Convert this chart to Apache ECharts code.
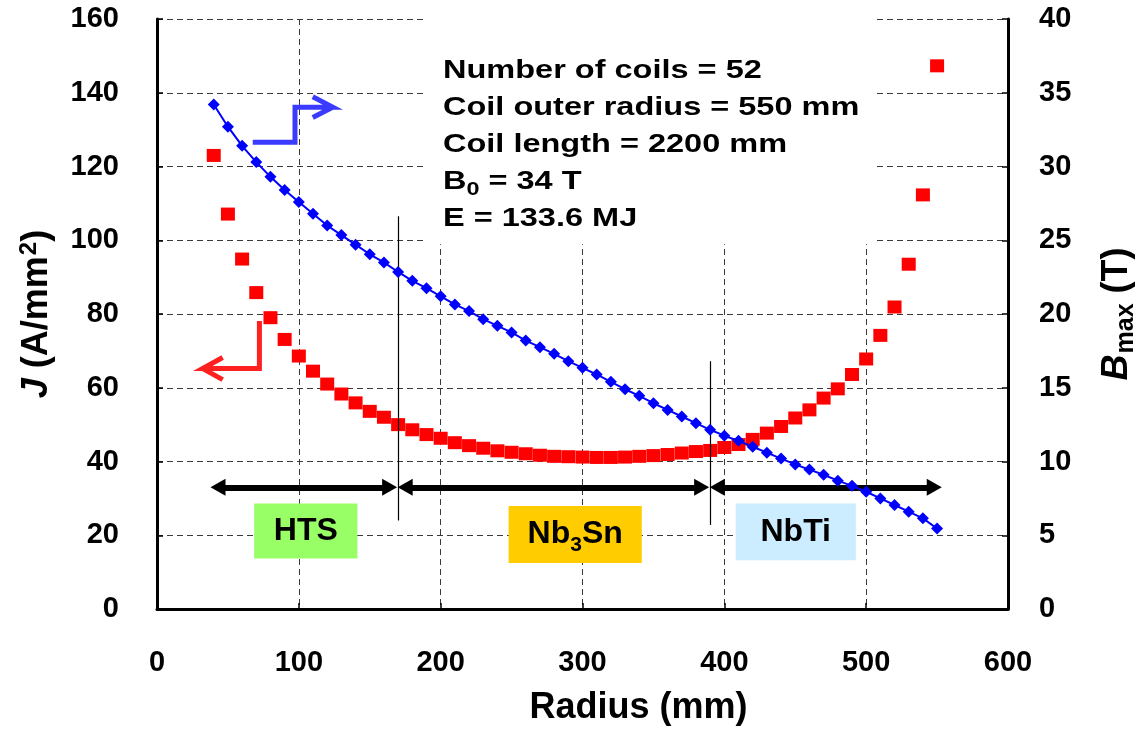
<!DOCTYPE html>
<html>
<head>
<meta charset="utf-8">
<title>Coil current density and peak field versus radius</title>
<script src="https://cdn.jsdelivr.net/npm/echarts@6/dist/echarts.min.js"></script>
<style>
  html, body { margin: 0; padding: 0; background: #ffffff; }
  #chart { width: 1147px; height: 731px; }
</style>
</head>
<body>
<div id="chart"></div>
<script>
// Coil mid radius (mm)
const radius = [40, 50, 60, 70, 80, 90, 100, 110, 120, 130, 140, 150, 160, 170, 180, 190,
  200, 210, 220, 230, 240, 250, 260, 270, 280, 290, 300, 310, 320, 330, 340, 350, 360,
  370, 380, 390, 400, 410, 420, 430, 440, 450, 460, 470, 480, 490, 500, 510, 520, 530,
  540, 550];

// Engineering current density J (A/mm2), left axis
const currentDensity = [123.0, 107.1, 94.9, 85.8, 79.0, 73.1, 68.6, 64.5, 61.0, 58.3, 55.9,
  53.6, 52.0, 50.0, 48.6, 47.3, 46.3, 45.1, 44.3, 43.6, 42.9, 42.5, 42.1, 41.7, 41.4, 41.3,
  41.2, 41.1, 41.1, 41.2, 41.4, 41.6, 41.9, 42.3, 42.7, 43.0, 43.8, 44.6, 46.0, 47.7, 49.5,
  51.8, 54.0, 57.2, 59.7, 63.6, 67.8, 74.2, 81.9, 93.5, 112.3, 147.3];

// Peak field on each coil Bmax (T), right axis
const peakField = [34.2, 32.7, 31.4, 30.3, 29.3, 28.4, 27.6, 26.8, 26.0, 25.35, 24.7, 24.05,
  23.5, 22.85, 22.25, 21.75, 21.2, 20.65, 20.2, 19.65, 19.2, 18.75, 18.2, 17.75, 17.3, 16.8,
  16.35, 15.9, 15.4, 14.9, 14.45, 13.95, 13.5, 13.05, 12.6, 12.15, 11.75, 11.4, 11.0, 10.6,
  10.2, 9.8, 9.45, 9.1, 8.7, 8.35, 7.95, 7.5, 7.05, 6.6, 6.15, 5.45];

// Axis ranges: [min, max, step]
const radiusRange = [0, 600, 100];
const densityRange = [0, 160, 20];
const fieldRange = [0, 40, 5];

// Conductor zones (radius in mm, heights in J units)
const zoneArrowLevel = 33;
const zoneArrowSpans = [[43, 164], [175, 384], [395, 548]];
const zoneDividers = [[170, 106.5, 24], [390, 67.2, 22.8]];
const zoneNames = ['HTS', '{t|Nb}{s|3}{t|Sn}', 'NbTi'];
const zoneBoxes = [[68.5, 28.6, 141.3, 13.7], [247.9, 27.9, 341.8, 12.5], [408, 28.6, 492.7, 13.2]];
const zoneColors = ['#99FF66', '#FFCC00', '#CCECFF'];

// Bent pointers telling which axis each curve uses (radius, J)
const densityPointer = [[72.2, 78.1], [72.2, 65.2], [32.2, 65.2], [46.3, 68.2], [32.2, 65.2], [46.3, 62.2]];
const fieldPointer = [[67.5, 126.6], [97.3, 126.6], [97.3, 136.1], [123.9, 136.1], [109.8, 138.9], [123.9, 136.1], [109.8, 133.3]];

// Design summary
const specBox = [190.1, 160, 504.9, 98.9];
const specLines = [
  'Number of coils = 52',
  'Coil outer radius = 550 mm',
  'Coil length = 2200 mm',
  '{m|B}{s|0}{m| = 34 T}',
  'E = 133.6 MJ'
];

const FONT = '"Liberation Sans", Arial, Helvetica, sans-serif';

const chart = echarts.init(document.getElementById('chart'), null, { renderer: 'canvas' });

const gridDash = { color: '#3a3a3a', width: 1, type: [6, 4] };
const axisLineStyle = { lineStyle: { color: '#000', width: 3 } };
const tickLabel = { color: '#000', fontSize: 29, fontWeight: 'bold', fontFamily: FONT };
const boldText = { fontWeight: 'bold', fontFamily: FONT, color: '#000' };

const option = {
  animation: false,
  backgroundColor: '#ffffff',
  grid: { left: 157, right: 139, top: 19, bottom: 121, containLabel: false },
  xAxis: {
    type: 'value',
    min: radiusRange[0], max: radiusRange[1], interval: radiusRange[2],
    name: 'Radius (mm)',
    nameLocation: 'middle',
    nameGap: 81,
    nameTextStyle: Object.assign({ fontSize: 36, padding: [0, 0, 0, 112] }, boldText),
    axisLine: axisLineStyle,
    axisTick: { inside: true, length: 6, lineStyle: { color: '#000', width: 1.5 } },
    axisLabel: Object.assign({ margin: 39 }, tickLabel),
    splitLine: { show: true, lineStyle: gridDash }
  },
  yAxis: [
    {
      type: 'value',
      position: 'left',
      min: densityRange[0], max: densityRange[1], interval: densityRange[2],
      name: '{i|J}{m| (A/mm}{p|2}{m|)}',
      nameLocation: 'middle',
      nameRotate: 90,
      nameGap: 100,
      nameTextStyle: Object.assign({
        fontSize: 36,
        rich: {
          i: Object.assign({ fontSize: 36, fontStyle: 'italic' }, boldText),
          m: Object.assign({ fontSize: 36 }, boldText),
          p: Object.assign({ fontSize: 24, padding: [0, 0, 16, 1] }, boldText)
        }
      }, boldText),
      axisLine: axisLineStyle,
      axisTick: { inside: true, length: 6, lineStyle: { color: '#000', width: 1.5 } },
      axisLabel: Object.assign({ margin: 38 }, tickLabel),
      splitLine: { show: true, lineStyle: gridDash }
    },
    {
      type: 'value',
      position: 'right',
      min: fieldRange[0], max: fieldRange[1], interval: fieldRange[2],
      name: '{i|B}{s|max}{m| (T)}',
      nameLocation: 'middle',
      nameRotate: 90,
      nameGap: 88,
      nameTextStyle: Object.assign({
        fontSize: 36,
        rich: {
          i: Object.assign({ fontSize: 36, fontStyle: 'italic' }, boldText),
          m: Object.assign({ fontSize: 36 }, boldText),
          s: Object.assign({ fontSize: 25, padding: [18, 0, 0, 1] }, boldText)
        }
      }, boldText),
      axisLine: axisLineStyle,
      axisTick: { inside: true, length: 6, lineStyle: { color: '#000', width: 1.5 } },
      axisLabel: Object.assign({ margin: 31 }, tickLabel),
      splitLine: { show: false }
    }
  ],
  series: [
    {
      // white panel behind the design summary and the coloured zone tags
      type: 'line',
      yAxisIndex: 0,
      data: [],
      silent: true,
      z: 2,
      markArea: {
        silent: true,
        data: [
          [{ coord: [specBox[0], specBox[1]], itemStyle: { color: '#ffffff', opacity: 1 }, label: { show: false } },
           { coord: [specBox[2], specBox[3]] }]
        ].concat(zoneBoxes.map((b, i) => [
          {
            coord: [b[0], b[1]],
            itemStyle: { color: zoneColors[i], opacity: 1 },
            label: Object.assign({
              show: true,
              position: 'inside',
              formatter: zoneNames[i],
              fontSize: 32,
              rich: {
                t: Object.assign({ fontSize: 32 }, boldText),
                s: Object.assign({ fontSize: 21, padding: [22, 0, 0, 0] }, boldText)
              }
            }, boldText)
          },
          { coord: [b[2], b[3]] }
        ]))
      }
    },
    {
      // thin boundaries between conductor zones
      type: 'line',
      yAxisIndex: 0,
      data: [],
      silent: true,
      z: 3,
      markLine: {
        silent: true,
        symbol: 'none',
        label: { show: false },
        lineStyle: { color: '#000', width: 1.2, type: 'solid' },
        emphasis: { disabled: true },
        data: zoneDividers.map(d => [{ coord: [d[0], d[1]] }, { coord: [d[0], d[2]] }])
      }
    },
    {
      // double-headed arrows spanning each conductor zone
      type: 'line',
      yAxisIndex: 0,
      data: [],
      silent: true,
      z: 3,
      markLine: {
        silent: true,
        symbol: ['triangle', 'triangle'],
        symbolSize: [17, 15],
        label: { show: false },
        lineStyle: { color: '#000', width: 6, type: 'solid' },
        itemStyle: { color: '#000' },
        emphasis: { disabled: true },
        data: zoneArrowSpans.map(s => [{ coord: [s[0], zoneArrowLevel] }, { coord: [s[1], zoneArrowLevel] }])
      }
    },
    {
      name: 'J',
      type: 'scatter',
      xAxisIndex: 0,
      yAxisIndex: 0,
      data: radius.map((r, i) => [r, currentDensity[i]]),
      symbol: 'rect',
      symbolSize: [14, 13],
      itemStyle: { color: '#FF0000', opacity: 1 },
      z: 4
    },
    {
      name: 'Bmax',
      type: 'line',
      xAxisIndex: 0,
      yAxisIndex: 1,
      data: radius.map((r, i) => [r, peakField[i]]),
      symbol: 'diamond',
      symbolSize: 12,
      showSymbol: true,
      showAllSymbol: true,
      lineStyle: { color: '#0000FF', width: 2 },
      itemStyle: { color: '#0000FF', opacity: 1 },
      z: 5
    },
    {
      type: 'line',
      yAxisIndex: 0,
      data: densityPointer,
      symbol: 'none',
      silent: true,
      lineStyle: { color: '#FF2020', width: 5, join: 'miter', cap: 'butt' },
      z: 4
    },
    {
      type: 'line',
      yAxisIndex: 0,
      data: fieldPointer,
      symbol: 'none',
      silent: true,
      lineStyle: { color: '#3B3BFF', width: 5, join: 'miter', cap: 'butt' },
      z: 4
    }
  ],
  graphic: specLines.map((t, i) => ({
    type: 'text',
    x: 443,
    y: 71 + 37 * i,
    scaleX: 1.3,
    z: 100,
    silent: true,
    style: {
      text: t,
      fill: '#000',
      fontSize: 25,
      fontWeight: 'bold',
      fontFamily: FONT,
      align: 'left',
      verticalAlign: 'middle',
      rich: {
        m: { fontSize: 25, fontWeight: 'bold', fontFamily: FONT, fill: '#000' },
        s: { fontSize: 18, fontWeight: 'bold', fontFamily: FONT, fill: '#000', padding: [16, 0, 0, 0] }
      }
    }
  }))
};

chart.setOption(option);
</script>
</body>
</html>
